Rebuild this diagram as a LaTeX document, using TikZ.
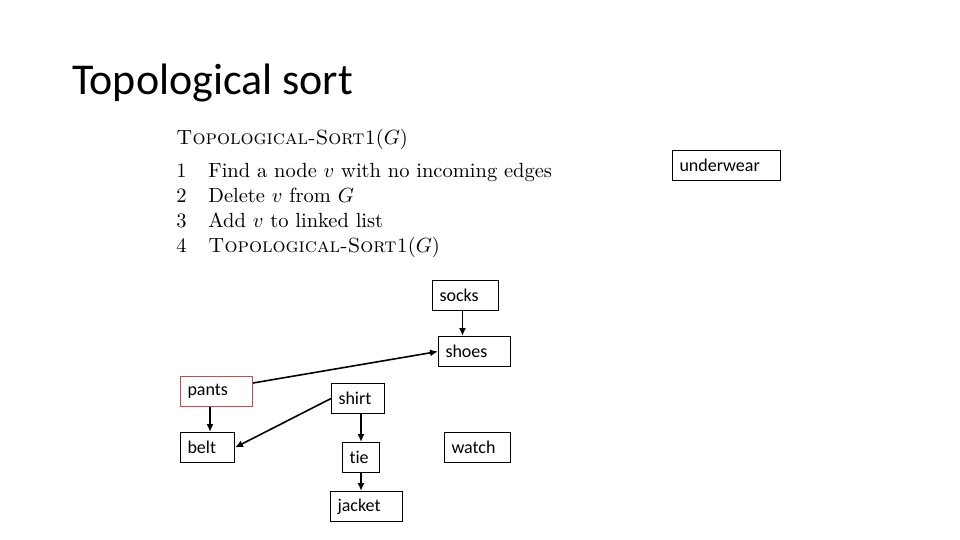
\documentclass[tikz,border=0pt]{standalone}
\usepackage{fontspec}
\newfontfamily\slidefont[Ligatures=NoCommon]{Carlito}
\usetikzlibrary{arrows.meta}

\definecolor{pantsred}{RGB}{192,80,77}

\tikzset{
  item/.style={draw, line width=1pt, anchor=north west, align=left,
    inner sep=7pt, minimum height=30pt,
    font=\slidefont\fontsize{18}{20}\selectfont},
  dep/.style={-{Latex[length=8pt,width=7pt]}, line width=1.6pt},
  algo/.style={anchor=base west, inner sep=0pt, scale=2.05, transform shape,
    font=\fontsize{10}{12}\selectfont}
}

\begin{document}
\begin{tikzpicture}[x=1pt,y=-1pt]
\useasboundingbox (0,0) rectangle (960,540);

% title
\node[anchor=base west, inner sep=0pt, font=\slidefont\fontsize{44}{48}\selectfont] (title) at (72,95) {Topological sort};

% the algorithm
\node[algo] (head) at (176,145) {\textsc{Topological-Sort1}$(G)$};
\node[algo] (n1) at (176,178) {1};
\node[algo] (l1) at (208,178) {Find a node $v$ with no incoming edges};
\node[algo] (n2) at (176,202) {2};
\node[algo] (l2) at (208,202) {Delete $v$ from $G$};
\node[algo] (n3) at (176,227) {3};
\node[algo] (l3) at (208,227) {Add $v$ to linked list};
\node[algo] (n4) at (176,252) {4};
\node[algo] (l4) at (208,252) {\textsc{Topological-Sort1}$(G)$};

% clothes
\node[item, text width=94pt] (underwear) at (672,150) {underwear};
\node[item, text width=52pt] (socks) at (432,280) {socks};
\node[item, text width=58pt] (shoes) at (438,336) {shoes};
\node[item, text width=58pt, draw=pantsred] (pants) at (180,376) {pants};
\node[item, text width=39pt] (shirt) at (331,383) {shirt};
\node[item, text width=40pt] (belt) at (180,432) {belt};
\node[item, text width=52pt] (watch) at (444,432) {watch};
\node[item, text width=23pt] (tie) at (342,442) {tie};
\node[item, text width=58pt] (jacket) at (330,491) {jacket};

% edges
\draw[dep] ([xshift=-3pt]socks.south) -- ([xshift=-3pt]socks.south |- shoes.north);
\draw[dep] ([yshift=-7pt]pants.north east) -- (shoes.west);
\draw[dep] ([xshift=30pt]pants.south west) -- ([xshift=30pt]belt.north west);
\draw[dep] (shirt.west) -- (belt.east);
\draw[dep] (shirt.south -| tie.north) -- (tie.north);
\draw[dep] (tie) -- (tie.south |- jacket.north);
\end{tikzpicture}
\end{document}
